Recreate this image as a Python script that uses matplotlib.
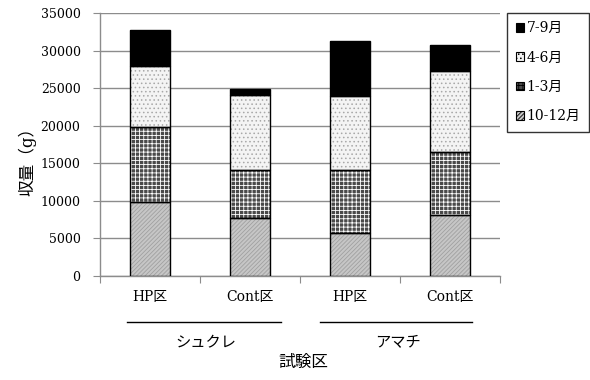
import matplotlib
matplotlib.use("Agg")
import matplotlib.pyplot as plt
from matplotlib.patches import Patch
import numpy as np

plt.rcParams['font.family'] = ['DejaVu Serif', 'Noto Sans CJK JP']
plt.rcParams['hatch.linewidth'] = 0.6

# data (g)
plots = ["HP区", "Cont区", "HP区", "Cont区"]
varieties = ["シュクレ", "アマチ"]
periods = ["10-12月", "1-3月", "4-6月", "7-9月"]
oct_dec = [9900, 7700, 5700, 8100]
jan_mar = [9900, 6400, 8400, 8400]
apr_jun = [8100, 10050, 9850, 10750]
jul_sep = [4800, 800, 7300, 3550]

series = [oct_dec, jan_mar, apr_jun, jul_sep]
styles = [
    dict(face="#c6c6c6", hatch="////////", hcol="#a0a0a0"),
    dict(face="#4a4a4a", hatch="++++", hcol="white"),
    dict(face="#f4f4f4", hatch="....", hcol="#a8a8a8"),
    dict(face="black", hatch=None, hcol="black"),
]

fig = plt.figure(figsize=(5.9, 3.8), dpi=100)
ax = fig.add_axes([100/590, 1-276/380, 400/590, 263/380])

x = np.arange(len(plots)) + 0.5
w = 0.4
bottom = np.zeros(len(plots))
for vals, st in zip(series, styles):
    vals = np.array(vals, dtype=float)
    ax.bar(x, vals, w, bottom=bottom, color=st["face"], hatch=st["hatch"],
           edgecolor=st["hcol"], linewidth=0, zorder=3)
    ax.bar(x, vals, w, bottom=bottom, fill=False, edgecolor="black",
           linewidth=1.0, zorder=4)
    bottom += vals

grid_c = "#8c8c8c"
ax.set_xlim(0, 4)
ax.set_ylim(0, 35000)
ax.set_yticks(np.arange(0, 35001, 5000))
ax.yaxis.grid(True, color=grid_c, linewidth=1.0, zorder=0)
ax.set_axisbelow(True)
for s in ["top", "right"]:
    ax.spines[s].set_visible(False)
for s in ["left", "bottom"]:
    ax.spines[s].set_color(grid_c)
    ax.spines[s].set_linewidth(1.0)
ax.tick_params(axis="y", direction="out", length=5, color=grid_c,
               labelsize=9, pad=9)
ax.set_xticks(np.arange(0, 5))
ax.set_xticklabels([])
ax.set_xticks(x, minor=True)
ax.set_xticklabels(plots, minor=True)
ax.tick_params(axis="x", which="major", direction="out", length=5, color=grid_c)
ax.tick_params(axis="x", which="minor", length=0, labelsize=10, pad=10)

# variety brackets under the plot labels
for x0, x1, name in [(0.27, 1.81, varieties[0]), (2.2, 3.72, varieties[1])]:
    ax.plot([x0, x1], [-0.174, -0.174], transform=ax.get_xaxis_transform(),
            color="black", linewidth=1.0, clip_on=False)
    ax.text((x0 + x1) / 2 + 0.02, -0.255, name, transform=ax.get_xaxis_transform(),
            ha="center", va="center", fontsize=11)

ax.text(2.03, -0.33, "試験区", transform=ax.get_xaxis_transform(),
        ha="center", va="center", fontsize=12)
ax.set_ylabel("収量（g）", fontsize=12)
ax.yaxis.set_label_coords(-0.16, 0.45)

handles = [Patch(facecolor=st["face"], hatch=st["hatch"], edgecolor="black",
                 linewidth=0.8) for st in styles]
leg = fig.legend(handles[::-1], periods[::-1], loc="upper right",
                 bbox_to_anchor=(589/590, 1-13/380), frameon=True, fancybox=False,
                 edgecolor="black", fontsize=10, handlelength=0.6,
                 handleheight=0.6, handletextpad=0.2, labelspacing=1.1,
                 borderpad=0.6, borderaxespad=0)
leg.get_frame().set_linewidth(1.0)

fig.savefig("out.png", dpi=100)
